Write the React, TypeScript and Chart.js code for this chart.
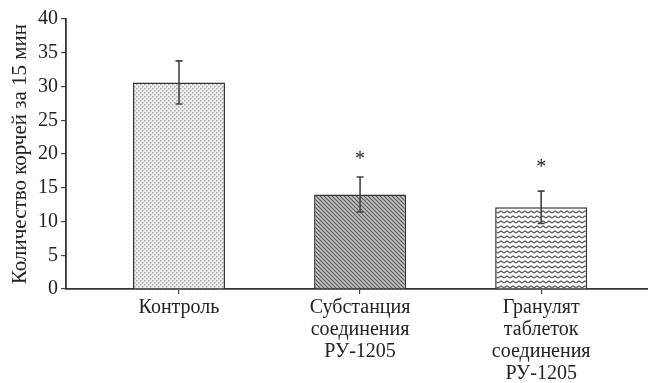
import React, { useEffect, useRef } from "react";
import { Chart, registerables } from "chart.js";

Chart.register(...registerables);

const categories: string[][] = [
  ["Контроль"],
  ["Субстанция", "соединения", "РУ-1205"],
  ["Гранулят", "таблеток", "соединения", "РУ-1205"],
];
const means = [30.6, 14.0, 12.1];
const errors = [3.2, 2.6, 2.4];
const marks = ["", "*", "*"];
const yTicks = [0, 5, 10, 15, 20, 25, 30, 35, 40];
const yTitle = "Количество корчей за 15 мин";

function makePattern(kind: number): CanvasPattern | string {
  const c = document.createElement("canvas");
  const ctx = c.getContext("2d")!;
  if (kind === 0) {
    c.width = 4; c.height = 4;
    ctx.fillStyle = "#f0f0f0"; ctx.fillRect(0, 0, 4, 4);
    ctx.fillStyle = "#a8a8a8";
    ctx.fillRect(0, 0, 1.5, 1.5);
    ctx.fillRect(2, 2, 1.5, 1.5);
  } else if (kind === 1) {
    c.width = 4; c.height = 4;
    ctx.fillStyle = "#c8c8c8"; ctx.fillRect(0, 0, 4, 4);
    ctx.strokeStyle = "#555"; ctx.lineWidth = 1.2;
    ctx.beginPath();
    ctx.moveTo(-1, -1); ctx.lineTo(5, 5);
    ctx.moveTo(-1, 3); ctx.lineTo(1, 5);
    ctx.moveTo(3, -1); ctx.lineTo(5, 1);
    ctx.stroke();
  } else {
    c.width = 6; c.height = 5;
    ctx.fillStyle = "#ffffff"; ctx.fillRect(0, 0, 6, 5);
    ctx.strokeStyle = "#555"; ctx.lineWidth = 1.1;
    ctx.beginPath();
    ctx.moveTo(0, 3); ctx.lineTo(3, 1); ctx.lineTo(6, 3);
    ctx.stroke();
  }
  const p = ctx.createPattern(c, "repeat");
  return p || "#ccc";
}

export default function App() {
  const ref = useRef<HTMLCanvasElement>(null);
  useEffect(() => {
    if (!ref.current) return;
    const font = "'Liberation Serif', 'Times New Roman', serif";
    const errPlugin = {
      id: "errbars",
      afterDatasetsDraw(chart: any) {
        const { ctx, scales } = chart;
        const xs = scales.x, ys = scales.y;
        ctx.save();
        ctx.strokeStyle = "#444";
        ctx.lineWidth = 1.6;
        means.forEach((m, i) => {
          const x = xs.getPixelForValue(i);
          const top = ys.getPixelForValue(m + errors[i]);
          const bot = ys.getPixelForValue(m - errors[i]);
          ctx.beginPath();
          ctx.moveTo(x, top); ctx.lineTo(x, bot);
          ctx.moveTo(x - 3.5, top); ctx.lineTo(x + 3.5, top);
          ctx.moveTo(x - 3.5, bot); ctx.lineTo(x + 3.5, bot);
          ctx.stroke();
          if (marks[i]) {
            ctx.fillStyle = "#222";
            ctx.font = `20px ${font}`;
            ctx.textAlign = "center";
            ctx.textBaseline = "middle";
            ctx.fillText(marks[i], x, top - 17 - (i - 1) * 6);
          }
        });
        ctx.restore();
      },
    };
    const chart = new Chart(ref.current, {
      type: "bar",
      data: {
        datasets: [
          {
            data: means.map((v, i) => ({ x: i, y: v })),
            backgroundColor: [makePattern(0), makePattern(1), makePattern(2)] as any,
            borderColor: "#333",
            borderWidth: 1.5,
            borderSkipped: "bottom",
            barPercentage: 0.508,
            categoryPercentage: 1,
          },
        ],
      },
      options: {
        animation: false,
        responsive: false,
        maintainAspectRatio: false,
        events: [],
        layout: { padding: { top: 19, right: 0, left: 0, bottom: 0 } },
        plugins: { legend: { display: false }, tooltip: { enabled: false } },
        scales: {
          x: {
            type: "linear",
            offset: false,
            min: -0.624,
            max: 2.59,
            afterFit: (s: any) => { s.height = 94; },
            afterBuildTicks: (s: any) => {
              s.ticks = categories.map((_, i) => ({ value: i }));
            },
            ticks: {
              includeBounds: false,
              stepSize: 1,
              autoSkip: false,
              maxRotation: 0,
              padding: 3,
              color: "#222",
              font: { family: font, size: 20, lineHeight: 1.1 },
              callback: (v: any) => categories[v as number] || "",
            },
            grid: { offset: false, drawOnChartArea: false, drawTicks: true, tickLength: 5, color: "#444", lineWidth: 1.2 },
            border: { color: "#333", width: 1.8 },
          },
          y: {
            min: 0,
            max: 40,
            afterFit: (s: any) => { s.width = 66; },
            afterBuildTicks: (s: any) => {
              s.ticks = yTicks.map((v) => ({ value: v }));
            },
            ticks: {
              padding: 3,
              color: "#222",
              font: { family: font, size: 20 },
            },
            title: {
              display: true,
              text: yTitle,
              color: "#222",
              font: { family: font, size: 21 },
              padding: { top: 8, bottom: 2 },
            },
            grid: { drawOnChartArea: false, drawTicks: true, tickLength: 5, color: "#444", lineWidth: 1.2 },
            border: { color: "#333", width: 1.8 },
          },
        },
      },
      plugins: [errPlugin],
    } as any);
    return () => chart.destroy();
  }, []);
  return (
    <div style={{ position: "fixed", left: 0, top: 0, width: 648, height: 383, background: "#fff" }}>
      <canvas ref={ref} width={648} height={383} style={{ width: 648, height: 383 }} />
    </div>
  );
}
